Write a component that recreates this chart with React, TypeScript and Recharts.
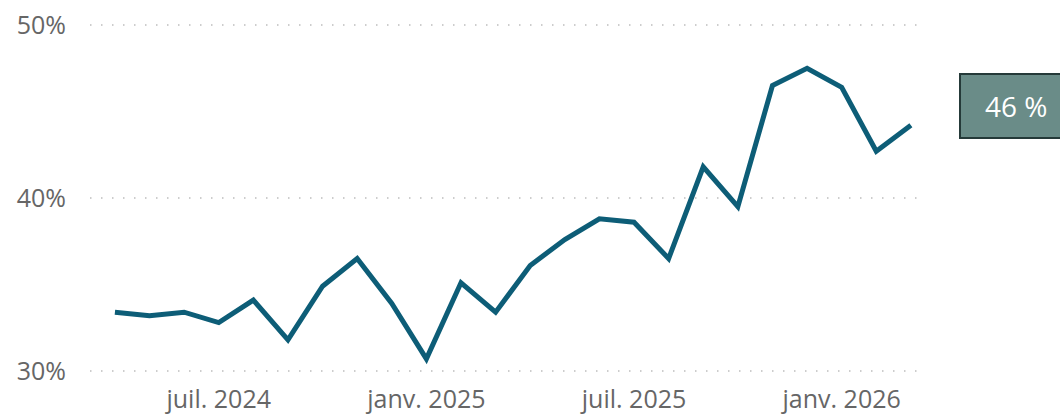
import { LineChart, Line, XAxis, YAxis, CartesianGrid } from 'recharts';

const months = [
  'avr. 2024', 'mai 2024', 'juin 2024', 'juil. 2024', 'août 2024', 'sept. 2024',
  'oct. 2024', 'nov. 2024', 'déc. 2024', 'janv. 2025', 'févr. 2025', 'mars 2025',
  'avr. 2025', 'mai 2025', 'juin 2025', 'juil. 2025', 'août 2025', 'sept. 2025',
  'oct. 2025', 'nov. 2025', 'déc. 2025', 'janv. 2026', 'févr. 2026', 'mars 2026'
];
const share = [
  33.4, 33.2, 33.4, 32.8, 34.1, 31.8,
  34.9, 36.5, 33.9, 30.7, 35.1, 33.4,
  36.1, 37.6, 38.8, 38.6, 36.5, 41.8,
  39.5, 46.5, 47.5, 46.4, 42.7, 44.2
];
const xTicks = [3, 9, 15, 21];
const yTicks = [30, 40, 50];
const kpiLabel = '46 %';

const data = months.map((m, i) => ({ idx: i, month: m, value: share[i] }));

const font = '"Open Sans", "Noto Sans", sans-serif';

export default function App() {
  return (
    <div style={{ position: 'absolute', left: 0, top: 0, width: 1060, height: 416, overflow: 'hidden', background: '#fff', fontFamily: font }}>
      <LineChart width={930} height={416} data={data} margin={{ top: 25, right: 7, left: 0, bottom: 0 }}>
        <CartesianGrid horizontal vertical={false} stroke="#bdbdbd" strokeWidth={1.5} strokeDasharray="1.5 9.5" />
        <XAxis
          dataKey="idx"
          type="number"
          domain={[-0.72, 23.35]}
          allowDataOverflow
          ticks={xTicks}
          tickFormatter={(v: number) => months[v]}
          axisLine={false}
          tickLine={false}
          tickSize={0}
          tickMargin={19}
          height={45}
          tick={{ fill: '#666', fontSize: 25, fontFamily: font }}
        />
        <YAxis
          domain={[30, 50]}
          ticks={yTicks}
          tickFormatter={(v: number) => `${v}%`}
          axisLine={false}
          tickLine={false}
          tickSize={0}
          tickMargin={24}
          width={90}
          tick={{ fill: '#666', fontSize: 25, fontFamily: font, textAnchor: 'end' }}
        />
        <Line type="linear" dataKey="value" stroke="#0d5d77" strokeWidth={5} dot={false} isAnimationActive={false} />
      </LineChart>
      <div style={{
        position: 'absolute', left: 959, top: 73, width: 110, height: 66, boxSizing: 'border-box',
        background: '#6a8c88', border: '2px solid #253a39', color: '#fff', fontSize: 28,
        fontFamily: font, display: 'flex', alignItems: 'center', paddingLeft: 24
      }}>
        {kpiLabel}
      </div>
    </div>
  );
}
